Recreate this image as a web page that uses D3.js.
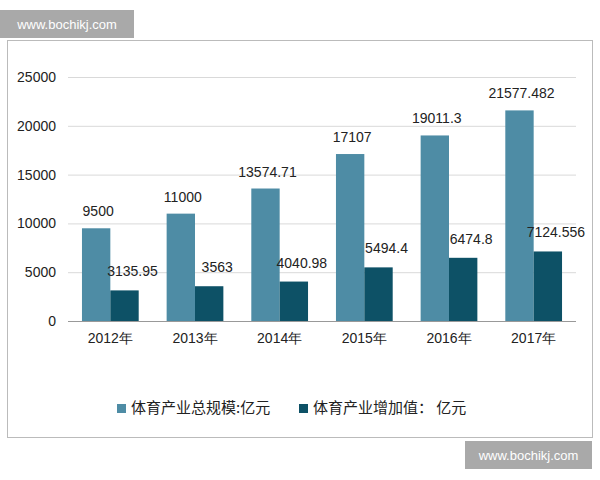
<!DOCTYPE html><html><head><meta charset="utf-8"><script src="https://cdn.jsdelivr.net/npm/d3@7"></script>
<style>body{margin:0;background:#fff}svg{font-family:"Liberation Sans",Arial,sans-serif}</style></head><body><svg width="600" height="480"></svg>
<script>
const years=["2012年","2013年","2014年","2015年","2016年","2017年"];
const total=[9500,11000,13574.71,17107,19011.3,21577.482];
const added=[3135.95,3563,4040.98,5494.4,6474.8,7124.556];
const totalLabels=["9500","11000","13574.71","17107","19011.3","21577.482"];
const addedLabels=["3135.95","3563","4040.98","5494.4","6474.8","7124.556"];
const ticks=[0,5000,10000,15000,20000,25000];
const names=["体育产业总规模:亿元","体育产业增加值： 亿元"];
const colors=["#4e8ca5","#0d5166"];
const svg=d3.select("svg");
svg.append("rect").attr("x",7.5).attr("y",40.5).attr("width",585).attr("height",397).attr("fill","#fff").attr("stroke","#bbb");
const y=d3.scaleLinear().domain([0,25000]).range([321,77]);
const x=d3.scaleBand().domain(years).range([68,576]).paddingInner(0.33).paddingOuter(0.165);
svg.append("g").selectAll("line").data(ticks).join("line").attr("x1",68).attr("x2",576).attr("y1",d=>y(d)+.5).attr("y2",d=>y(d)+.5).attr("stroke","#d9d9d9");
svg.append("line").attr("x1",68).attr("x2",576).attr("y1",y(0)+.5).attr("y2",y(0)+.5).attr("stroke","#999");
const ya=svg.append("g").attr("transform","translate(68,0)").call(d3.axisLeft(y).tickValues(ticks).tickFormat(d3.format("d")).tickSize(0).tickPadding(12));
ya.select(".domain").remove();ya.selectAll("text").attr("font-size",14).attr("fill","#222");
const xa=svg.append("g").attr("transform",`translate(0,${y(0)})`).call(d3.axisBottom(x).tickSize(0).tickPadding(12));
xa.select(".domain").remove();xa.selectAll("text").attr("font-size",14).attr("fill","#222");
const bw=x.bandwidth()/2;
const g=svg.append("g");
g.selectAll(".t").data(total).join("rect").attr("x",(d,i)=>x(years[i])).attr("width",bw).attr("y",d=>y(d)).attr("height",d=>y(0)-y(d)).attr("fill",colors[0]);
g.selectAll(".a").data(added).join("rect").attr("x",(d,i)=>x(years[i])+bw).attr("width",bw).attr("y",d=>y(d)).attr("height",d=>y(0)-y(d)).attr("fill",colors[1]);
g.selectAll(".tl").data(total).join("text").attr("x",(d,i)=>x(years[i])+bw/2+2).attr("y",d=>y(d)-12).attr("text-anchor","middle").attr("font-size",14).attr("fill","#222").text((d,i)=>totalLabels[i]);
g.selectAll(".al").data(added).join("text").attr("x",(d,i)=>x(years[i])+bw*1.5+8).attr("y",d=>y(d)-14).attr("text-anchor","middle").attr("font-size",14).attr("fill","#222").text((d,i)=>addedLabels[i]);
const lg=svg.append("g");
[[117,0],[299,1]].forEach(([lx,i])=>{lg.append("rect").attr("x",lx).attr("y",404).attr("width",9).attr("height",9).attr("fill",colors[i]);
lg.append("text").attr("x",lx+14).attr("y",413).attr("font-size",15).attr("fill","#222").attr("font-family","Noto Sans CJK SC").text(names[i]);});
function wm(x0,y0,w,h){svg.append("rect").attr("x",x0).attr("y",y0).attr("width",w).attr("height",h).attr("fill","#a9a9a9");
svg.append("text").attr("x",x0+w/2).attr("y",y0+h/2+5).attr("text-anchor","middle").attr("fill","#fff").attr("font-size",13).text("www.bochikj.com");}
wm(0,10,134,28);wm(465,441,127,28);
</script></body></html>
